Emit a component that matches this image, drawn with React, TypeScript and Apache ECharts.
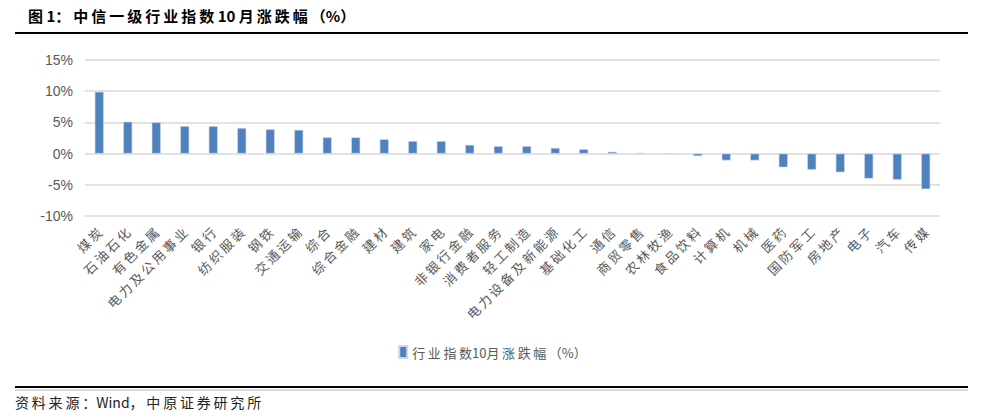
import React, { useEffect, useRef } from "react";
import * as echarts from "echarts";

const categories: string[] = [
  "煤炭", "石油石化", "有色金属", "电力及公用事业", "银行", "纺织服装", "钢铁", "交通运输",
  "综合", "综合金融", "建材", "建筑", "家电", "非银行金融", "消费者服务", "轻工制造",
  "电力设备及新能源", "基础化工", "通信", "商贸零售", "农林牧渔", "食品饮料", "计算机",
  "机械", "医药", "国防军工", "房地产", "电子", "汽车", "传媒",
];

const values: number[] = [
  9.9, 5.1, 5.0, 4.4, 4.4, 4.1, 3.9, 3.8,
  2.6, 2.6, 2.3, 2.0, 2.0, 1.4, 1.2, 1.2,
  0.9, 0.7, 0.3, 0.1, 0.0, -0.4, -1.1,
  -1.1, -2.2, -2.6, -3.0, -4.0, -4.2, -5.7,
];

const seriesName = "行业指数10月涨跌幅（%）";
const titleText = "图 1：中信一级行业指数 10 月涨跌幅（%）";
const sourceText = "资料来源：Wind，中原证券研究所";
const yMin = -10;
const yMax = 15;
const yStep = 5;

const CJK = "'Noto Sans CJK SC', 'Noto Sans', sans-serif";
const spaced = (s: string) => s.split("").join("\u2009");
const spacedCJK = (s: string) =>
  s.replace(/([\u3000-\u9fff\uff00-\uffef])(?=[\u3000-\u9fff\uff00-\uffef])/g, "$1\u2009");

export default function App() {
  const ref = useRef<HTMLDivElement>(null);
  useEffect(() => {
    if (!ref.current) return;
    const chart = echarts.init(ref.current, undefined, { renderer: "svg" });
    chart.setOption({
      animation: false,
      backgroundColor: "#ffffff",
      grid: { left: 85, right: 45, top: 60, bottom: 202 },
      legend: {
        data: [seriesName],
        bottom: 54,
        left: "center",
        icon: "rect",
        itemWidth: 8,
        itemHeight: 12,
        itemGap: 6,
        formatter: (n: string) => spacedCJK(n),
        textStyle: { color: "#595959", fontSize: 13, fontFamily: CJK },
      },
      xAxis: {
        type: "category",
        data: categories,
        axisLine: { show: false, onZero: false },
        axisTick: { show: false },
        axisLabel: {
          interval: 0,
          rotate: 45,
          margin: 14,
          color: "#595959",
          fontSize: 13,
          fontFamily: CJK,
          formatter: (v: string) => spaced(v),
        },
      },
      yAxis: {
        type: "value",
        min: yMin,
        max: yMax,
        interval: yStep,
        axisLine: { show: false },
        axisTick: { show: false },
        splitLine: { lineStyle: { color: "#d9d9d9", width: 1.5 } },
        axisLabel: {
          margin: 12,
          color: "#595959",
          fontSize: 14,
          fontFamily: "Arial, 'Liberation Sans', sans-serif",
          formatter: (v: number) => `${v}%`,
        },
      },
      series: [
        {
          name: seriesName,
          type: "bar",
          data: values,
          barWidth: 9,
          itemStyle: { color: "#4F81BD", borderColor: "#c9d7ec", borderWidth: 0.6 },
        },
      ],
      graphic: [
        {
          type: "text",
          left: 28,
          top: 8,
          style: { text: spacedCJK(titleText), fontSize: 15, fontWeight: "bold", fill: "#000", fontFamily: CJK },
        },
        { type: "line", shape: { x1: 15, y1: 33, x2: 968, y2: 33 }, style: { stroke: "#000", lineWidth: 2 } },
        { type: "line", shape: { x1: 15, y1: 387, x2: 968, y2: 387 }, style: { stroke: "#000", lineWidth: 2 } },
        { type: "line", shape: { x1: 15, y1: 390, x2: 968, y2: 390 }, style: { stroke: "#888", lineWidth: 0.6 } },
        {
          type: "text",
          left: 15,
          top: 395,
          style: { text: spacedCJK(sourceText), fontSize: 14, fill: "#222", fontFamily: CJK },
        },
      ],
    });
    return () => chart.dispose();
  }, []);
  return <div ref={ref} style={{ width: 985, height: 418, position: "absolute", left: 0, top: 0 }} />;
}
